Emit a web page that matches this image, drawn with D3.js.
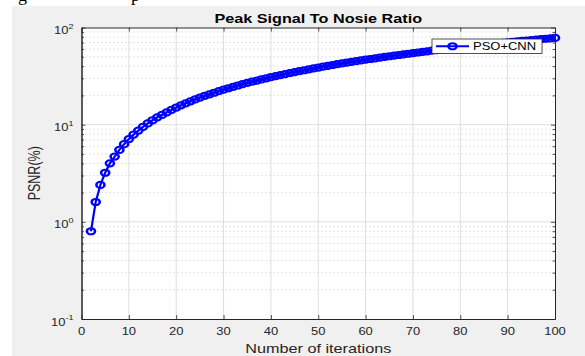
<!DOCTYPE html>
<html>
<head>
<meta charset="utf-8">
<script src="https://cdn.jsdelivr.net/npm/d3@7"></script>
<style>
  html, body { margin: 0; padding: 0; background: #fff; }
  svg { display: block; }
  text { font-family: "Liberation Sans", Arial, sans-serif; fill: #262626; }
</style>
</head>
<body>
<div class="graph"></div>
<script>
// Data
var iterations = [2, 3, 4, 5, 6, 7, 8, 9, 10, 11, 12, 13, 14, 15, 16, 17, 18, 19, 20,
    21, 22, 23, 24, 25, 26, 27, 28, 29, 30, 31, 32, 33, 34, 35, 36, 37, 38, 39, 40,
    41, 42, 43, 44, 45, 46, 47, 48, 49, 50, 51, 52, 53, 54, 55, 56, 57, 58, 59, 60,
    61, 62, 63, 64, 65, 66, 67, 68, 69, 70, 71, 72, 73, 74, 75, 76, 77, 78, 79, 80,
    81, 82, 83, 84, 85, 86, 87, 88, 89, 90, 91, 92, 93, 94, 95, 96, 97, 98, 99, 100];
var psnr = [0.8, 1.6, 2.4, 3.2, 4.0, 4.7, 5.5, 6.3, 7.1, 7.9, 8.7, 9.5, 10.3, 11.1, 11.9,
    12.6, 13.4, 14.2, 15.0, 15.8, 16.6, 17.4, 18.2, 19.0, 19.8, 20.5, 21.3, 22.1, 22.9,
    23.7, 24.5, 25.3, 26.1, 26.9, 27.7, 28.4, 29.2, 30.0, 30.8, 31.6, 32.4, 33.2, 34.0,
    34.8, 35.6, 36.3, 37.1, 37.9, 38.7, 39.5, 40.3, 41.1, 41.9, 42.7, 43.5, 44.2, 45.0,
    45.8, 46.6, 47.4, 48.2, 49.0, 49.8, 50.6, 51.4, 52.1, 52.9, 53.7, 54.5, 55.3, 56.1,
    56.9, 57.7, 58.5, 59.3, 60.0, 60.8, 61.6, 62.4, 63.2, 64.0, 64.8, 65.6, 66.4, 67.2,
    67.9, 68.7, 69.5, 70.3, 71.1, 71.9, 72.7, 73.5, 74.3, 75.1, 75.8, 76.6, 77.4, 78.2];
var xTicks = [0, 10, 20, 30, 40, 50, 60, 70, 80, 90, 100];
var yTicks = [0.1, 1, 10, 100];
var yExponents = ["-1", "0", "1", "2"];
var seriesName = "PSO+CNN";

// Configuration
var width = 585;
var height = 356;
var padding = { left: 81.5, right: 30, top: 27.5, bottom: 37 };
var stretch = 1.3;   // picture is wider than tall, text and markers look stretched
var blue = "#0000ff";

var data = iterations.map(function (d, i) { return { x: d, y: psnr[i] }; });

var svg = d3.select(".graph").append("svg")
    .attr("width", width)
    .attr("height", height);

// figure background
svg.append("rect")
    .attr("x", 12).attr("y", 6)
    .attr("width", width - 12).attr("height", height - 6)
    .attr("fill", "#f0f0f0");

// bits of page text cut off above the figure
svg.append("text").attr("x", 18).attr("y", 1)
    .style("font-family", "Liberation Serif, serif").style("font-size", "18px").style("fill", "#000")
    .text("g");
svg.append("text").attr("x", 131).attr("y", 1)
    .style("font-family", "Liberation Serif, serif").style("font-size", "18px").style("fill", "#000")
    .text("p");

// Scales
var xScale = d3.scaleLinear()
    .domain([0, 100])
    .range([padding.left, width - padding.right]);
var yScale = d3.scaleLog()
    .domain([0.1, 100])
    .range([height - padding.bottom, padding.top]);

var x0 = xScale.range()[0], x1 = xScale.range()[1];
var y0 = yScale.range()[0], y1 = yScale.range()[1];

svg.append("rect")
    .attr("x", x0).attr("y", y1)
    .attr("width", x1 - x0).attr("height", y0 - y1)
    .attr("fill", "#fff");

// minor grid (log decades)
var minorValues = [];
[0.1, 1, 10].forEach(function (dec) {
    for (var m = 2; m <= 9; m++) minorValues.push(dec * m);
});
svg.append("g").selectAll("line").data(minorValues).enter().append("line")
    .attr("x1", x0).attr("x2", x1)
    .attr("y1", function (d) { return yScale(d); })
    .attr("y2", function (d) { return yScale(d); })
    .attr("stroke", "#c8c8c8")
    .attr("stroke-width", 1)
    .attr("stroke-dasharray", "1,3");

// major grid
var grid = svg.append("g").attr("stroke", "#dedede").attr("stroke-width", 1);
grid.selectAll(".gx").data(xTicks.slice(1, -1)).enter().append("line")
    .attr("x1", function (d) { return xScale(d); })
    .attr("x2", function (d) { return xScale(d); })
    .attr("y1", y1).attr("y2", y0);
grid.selectAll(".gy").data(yTicks.slice(1, -1)).enter().append("line")
    .attr("x1", x0).attr("x2", x1)
    .attr("y1", function (d) { return yScale(d); })
    .attr("y2", function (d) { return yScale(d); });

// Axes (MATLAB style: inward ticks, box on)
var xAxis = d3.axisBottom(xScale).tickValues(xTicks).tickSizeInner(-4).tickSizeOuter(0).tickFormat("");
var xAxisTop = d3.axisTop(xScale).tickValues(xTicks).tickSizeInner(-4).tickSizeOuter(0).tickFormat("");
var yAxis = d3.axisLeft(yScale).tickValues(yTicks).tickSizeInner(-4).tickSizeOuter(0).tickFormat("");
var yAxisRight = d3.axisRight(yScale).tickValues(yTicks).tickSizeInner(-4).tickSizeOuter(0).tickFormat("");
var yMinor = d3.axisLeft(yScale).tickValues(minorValues).tickSizeInner(-2.5).tickSizeOuter(0).tickFormat("");
var yMinorRight = d3.axisRight(yScale).tickValues(minorValues).tickSizeInner(-2.5).tickSizeOuter(0).tickFormat("");

function styleAxis(g) {
    g.selectAll("path").attr("stroke", "#262626").attr("stroke-width", 1);
    g.selectAll("line").attr("stroke", "#262626").attr("stroke-width", 0.8);
}
svg.append("g").attr("transform", "translate(0," + y0 + ")").call(xAxis).call(styleAxis);
svg.append("g").attr("transform", "translate(0," + y1 + ")").call(xAxisTop).call(styleAxis);
svg.append("g").attr("transform", "translate(" + x0 + ",0)").call(yAxis).call(styleAxis);
svg.append("g").attr("transform", "translate(" + x1 + ",0)").call(yAxisRight).call(styleAxis);
svg.append("g").attr("transform", "translate(" + x0 + ",0)").call(yMinor).call(styleAxis);
svg.append("g").attr("transform", "translate(" + x1 + ",0)").call(yMinorRight).call(styleAxis);

// tick labels
svg.append("g").selectAll("g").data(xTicks).enter().append("g")
    .attr("transform", function (d) { return "translate(" + xScale(d) + "," + (y0 + 16) + ") scale(" + stretch + ",1)"; })
    .append("text")
    .attr("text-anchor", "middle")
    .style("font-size", "10px")
    .text(function (d) { return d; });

var yLabels = svg.append("g").selectAll("g").data(yTicks).enter().append("g")
    .attr("transform", function (d) { return "translate(" + (x0 - 8) + "," + (yScale(d) + 6.5) + ") scale(" + stretch + ",1)"; })
    .append("text")
    .attr("text-anchor", "end")
    .style("font-size", "10px");
yLabels.append("tspan").text("10");
yLabels.append("tspan")
    .attr("dy", -5.5)
    .style("font-size", "7px")
    .text(function (d, i) { return yExponents[i]; });

// titles
svg.append("g")
    .attr("transform", "translate(" + ((x0 + x1) / 2) + ",23) scale(1.35,1)")
    .append("text")
    .attr("text-anchor", "middle")
    .style("font-size", "12px")
    .style("font-weight", "bold")
    .style("fill", "#000")
    .text("Peak Signal To Nosie Ratio");

svg.append("g")
    .attr("transform", "translate(" + ((x0 + x1) / 2) + ",352.5) scale(" + stretch + ",1)")
    .append("text")
    .attr("text-anchor", "middle")
    .style("font-size", "12.5px")
    .text("Number of iterations");

svg.append("g")
    .attr("transform", "translate(40," + ((y0 + y1) / 2) + ") scale(" + stretch + ",1) rotate(-90)")
    .append("text")
    .attr("text-anchor", "middle")
    .style("font-size", "12.5px")
    .text("PSNR(%)");

// Series
var line = d3.line()
    .x(function (d) { return xScale(d.x); })
    .y(function (d) { return yScale(d.y); });

svg.append("path")
    .datum(data)
    .attr("fill", "none")
    .attr("stroke", blue)
    .attr("stroke-width", 2.2)
    .attr("d", line);

svg.append("g").selectAll("g").data(data).enter().append("g")
    .attr("transform", function (d) {
        return "translate(" + xScale(d.x) + "," + yScale(d.y) + ") scale(" + stretch + ",1)";
    })
    .append("circle")
    .attr("r", 3.1)
    .attr("fill", "none")
    .attr("stroke", blue)
    .attr("stroke-width", 2);

// Legend
var legend = svg.append("g").attr("transform", "translate(432,39)");
legend.append("rect")
    .attr("width", 110).attr("height", 14.5)
    .attr("fill", "#fff")
    .attr("stroke", "#262626")
    .attr("stroke-width", 0.8);
legend.append("line")
    .attr("x1", 4).attr("x2", 37).attr("y1", 7.25).attr("y2", 7.25)
    .attr("stroke", blue).attr("stroke-width", 2.2);
legend.append("g")
    .attr("transform", "translate(20.5,7.25) scale(" + stretch + ",1)")
    .append("circle")
    .attr("r", 3.1)
    .attr("fill", "none").attr("stroke", blue).attr("stroke-width", 2);
legend.append("g")
    .attr("transform", "translate(41,11) scale(" + stretch + ",1)")
    .append("text")
    .style("font-size", "10px")
    .style("fill", "#000")
    .text(seriesName);
</script>
</body>
</html>
